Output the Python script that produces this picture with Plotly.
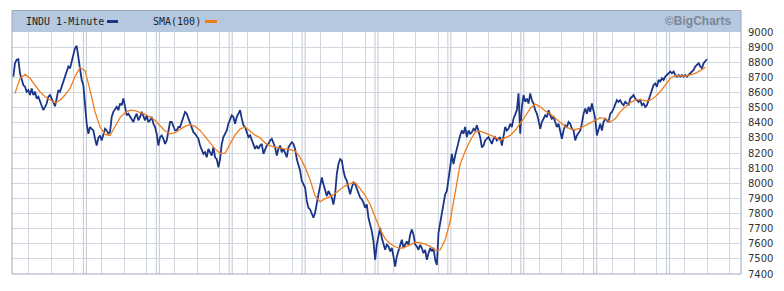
import plotly.graph_objects as go

# ---- data ----
DAY_MINUTES = 390          # one trading session, 9:30-16:00
N_DAYS = 10
HOUR_LINES = [90, 210, 330]  # 11:00, 13:00, 15:00 after the open
FIRST_SAMPLE = 7.1          # minutes after first open of first reading
SAMPLE_STEP = 8.92          # minutes between readings
SMA_EVERY = 3               # SMA read every 3rd reading

INDU = [
    8705, 8794, 8816, 8820, 8727, 8683, 8649, 8638, 8605, 8616,
    8583, 8627, 8583, 8605, 8560, 8572, 8538, 8516, 8483, 8505,
    8527, 8572, 8583, 8560, 8538, 8509, 8560, 8616, 8605, 8638,
    8660, 8705, 8727, 8772, 8760, 8805, 8849, 8894, 8909, 8838,
    8772, 8683, 8649, 8494, 8394, 8327, 8372, 8360, 8349, 8294,
    8249, 8300, 8316, 8283, 8327, 8360, 8349, 8327, 8338, 8438,
    8472, 8494, 8505, 8483, 8527, 8516, 8560, 8505, 8449, 8460,
    8438, 8427, 8405, 8438, 8460, 8416, 8438, 8472, 8438, 8416,
    8449, 8405, 8416, 8438, 8394, 8372, 8327, 8249, 8305, 8316,
    8294, 8260, 8283, 8349, 8405, 8405, 8372, 8349, 8349, 8372,
    8372, 8405, 8438, 8472, 8460, 8427, 8405, 8372, 8338, 8327,
    8305, 8294, 8249, 8227, 8194, 8205, 8172, 8227, 8205, 8183,
    8238, 8172, 8160, 8105, 8160, 8260, 8305, 8327, 8349, 8394,
    8427, 8449, 8438, 8394, 8438, 8460, 8483, 8427, 8383, 8372,
    8338, 8305, 8316, 8283, 8260, 8227, 8249, 8227, 8249,
    8260, 8194, 8227, 8249, 8260, 8283, 8294, 8260, 8238, 8183,
    8227, 8249, 8205, 8227, 8194, 8172, 8238, 8260, 8272, 8260,
    8227, 8160, 8116, 8083, 8016, 7994, 7972, 7883, 7838, 7827,
    7794, 7772, 7805, 7883, 7927, 7983, 8038, 7994, 7949, 7916,
    7949, 7927, 7905, 7860, 7927, 8060, 8127, 8160, 8149, 8083,
    8038, 8016, 7972, 7927, 7972, 8005, 7994, 7960, 7927, 7905,
    7894, 7872, 7838, 7860, 7772, 7727, 7683, 7616, 7494, 7594,
    7660, 7705, 7638, 7594, 7560, 7594, 7583, 7549, 7572, 7516,
    7449, 7516, 7549, 7594, 7627, 7572, 7594, 7616, 7594, 7660,
    7694, 7660, 7594, 7583, 7560, 7594, 7572, 7538, 7560, 7494,
    7538, 7572, 7549, 7572, 7494, 7460, 7672, 7738, 7805, 7860,
    7927, 7949, 8016, 8105, 8194, 8127, 8183, 8238, 8272, 8316,
    8349, 8327, 8372, 8305, 8349, 8327, 8338, 8360, 8349, 8383,
    8349, 8305, 8238, 8249, 8283, 8294, 8305, 8283, 8260, 8294,
    8305, 8283, 8294,
    8305, 8249, 8327, 8372, 8349, 8360, 8394, 8372, 8427, 8460,
    8483, 8594, 8327, 8505, 8583, 8538, 8560, 8527, 8594, 8549,
    8527, 8483, 8460, 8416, 8360, 8405, 8427, 8449, 8438, 8483,
    8449, 8427, 8438, 8405, 8372, 8394, 8349, 8294, 8349, 8383,
    8372, 8405, 8394, 8360, 8349, 8283, 8316, 8338, 8349, 8394,
    8460, 8494, 8460, 8505, 8472, 8527, 8483, 8427, 8316, 8360,
    8394, 8349, 8405, 8427, 8416, 8405, 8460, 8472, 8494, 8527,
    8549, 8538, 8549, 8527, 8516, 8538, 8527, 8516, 8560, 8572,
    8583, 8560, 8549, 8538, 8549, 8516, 8527, 8505, 8516, 8549,
    8594, 8627, 8649, 8660, 8638, 8683, 8672, 8694, 8683, 8705,
    8716, 8727, 8738, 8727, 8738, 8716, 8705, 8716, 8705, 8716,
    8705, 8716, 8705, 8716, 8727, 8738, 8749, 8772, 8783, 8794,
    8772, 8760, 8794, 8805, 8820,
]

SMA100 = [
    8594, 8694, 8720, 8694, 8649, 8605, 8572, 8549, 8532, 8549,
    8583, 8627, 8705, 8765, 8745, 8616, 8472, 8372, 8323, 8316,
    8372, 8434, 8467, 8483, 8480, 8469, 8456, 8438, 8416, 8380,
    8345, 8327, 8334, 8356, 8376, 8389, 8376, 8349, 8309, 8267,
    8227, 8198, 8198, 8260, 8320, 8358, 8372, 8345, 8318, 8300,
    8267, 8247, 8238, 8232, 8227, 8223, 8212, 8172, 8105, 8023,
    7916, 7878, 7898, 7912, 7932, 7960, 7983, 7998, 8005, 7965,
    7920, 7860, 7778, 7694, 7634, 7600, 7580, 7569, 7578, 7592,
    7609, 7607, 7598, 7583, 7558, 7560, 7627, 7749, 7949, 8127,
    8212, 8283, 8338, 8345, 8332, 8316, 8305,
    8283, 8300, 8316, 8349, 8394, 8443, 8494, 8523, 8505, 8478,
    8460, 8434, 8405, 8376, 8360, 8354, 8365, 8383, 8398, 8420,
    8434, 8427, 8405, 8427, 8472, 8505, 8532, 8549, 8554, 8545,
    8549, 8572, 8605, 8649, 8694, 8712, 8712, 8709, 8716, 8727,
    8745, 8767,
]

Y_TICKS = list(range(7400, 9001, 100))
Y_RANGE = [7400, 9000]
SERIES_NAMES = ["INDU 1-Minute", "SMA(100)"]
COPYRIGHT = "©BigCharts"

# ---- styles ----
BLUE = "#1b3688"
ORANGE = "#f07d1c"
GRID = "#cfd6e0"
SEP = "#bfc6d1"
HEADER = "#b5c8e0"
FRAME = "#9ea8ba"

W, H = 784, 291
ML, MR, MT, MB = 12, 43, 32, 17
PW = W - ML - MR
PH = H - MT - MB

x_indu = [FIRST_SAMPLE + i * SAMPLE_STEP for i in range(len(INDU))]
x_sma = [FIRST_SAMPLE + (1 + SMA_EVERY * j) * SAMPLE_STEP for j in range(len(SMA100))]

fig = go.Figure()
fig.add_trace(go.Scatter(x=x_indu, y=INDU, mode="lines", name=SERIES_NAMES[0],
                         line=dict(color=BLUE, width=1.8), hoverinfo="skip"))
fig.add_trace(go.Scatter(x=x_sma, y=SMA100, mode="lines", name=SERIES_NAMES[1],
                         line=dict(color=ORANGE, width=1.3), hoverinfo="skip"))

hour_ticks = [d * DAY_MINUTES + t for d in range(N_DAYS) for t in HOUR_LINES]

shapes = []
# header band
shapes.append(dict(type="rect", xref="paper", yref="paper", x0=0, x1=1,
                   y0=1, y1=1 + 21.5 / PH, fillcolor=HEADER,
                   line=dict(width=0), layer="below"))
# day separators (double lines)
for d in range(1, N_DAYS):
    for off in (-8, 8):
        shapes.append(dict(type="line", xref="x", yref="paper",
                           x0=d * DAY_MINUTES + off, x1=d * DAY_MINUTES + off,
                           y0=0, y1=1, line=dict(color=SEP, width=1), layer="below"))
# outer frame
shapes.append(dict(type="rect", xref="paper", yref="paper", x0=0, x1=1,
                   y0=0, y1=1 + 21.5 / PH, line=dict(color=FRAME, width=1),
                   fillcolor="rgba(0,0,0,0)"))


def px_x(p):
    return (p - ML) / PW


def px_y(p):
    return 1 + (MT - p) / PH


# legend markers
shapes.append(dict(type="line", xref="paper", yref="paper",
                   x0=px_x(107), x1=px_x(118), y0=px_y(21.5), y1=px_y(21.5),
                   line=dict(color=BLUE, width=3)))
shapes.append(dict(type="line", xref="paper", yref="paper",
                   x0=px_x(205), x1=px_x(217), y0=px_y(21.5), y1=px_y(21.5),
                   line=dict(color=ORANGE, width=3)))

annotations = [
    dict(text=SERIES_NAMES[0], xref="paper", yref="paper", x=px_x(24), y=px_y(21),
         xanchor="left", yanchor="middle", showarrow=False,
         font=dict(family="DejaVu Sans Mono", size=10, color="#1e1e1e")),
    dict(text=SERIES_NAMES[1], xref="paper", yref="paper", x=px_x(151), y=px_y(21),
         xanchor="left", yanchor="middle", showarrow=False,
         font=dict(family="DejaVu Sans Mono", size=10, color="#1e1e1e")),
    dict(text="<b>" + COPYRIGHT + "</b>", xref="paper", yref="paper", x=px_x(734), y=px_y(21),
         xanchor="right", yanchor="middle", showarrow=False,
         font=dict(family="Liberation Sans", size=12, color="#7d8696")),
]

fig.update_layout(
    width=W, height=H,
    margin=dict(l=ML, r=MR, t=MT, b=MB, pad=0),
    paper_bgcolor="white", plot_bgcolor="white",
    showlegend=False,
    shapes=shapes,
    annotations=annotations,
    xaxis=dict(range=[0, N_DAYS * DAY_MINUTES], tickvals=hour_ticks,
               showgrid=True, gridcolor=GRID, gridwidth=1,
               showticklabels=False, ticks="", zeroline=False, showline=False,
               fixedrange=True),
    yaxis=dict(range=Y_RANGE, tickvals=Y_TICKS, side="right",
               showgrid=True, gridcolor=GRID, gridwidth=1,
               ticks="", ticklabelstandoff=6, zeroline=False, showline=False,
               tickfont=dict(family="DejaVu Sans", size=10, color="#333333"),
               fixedrange=True),
)

fig.write_html("out.html")
